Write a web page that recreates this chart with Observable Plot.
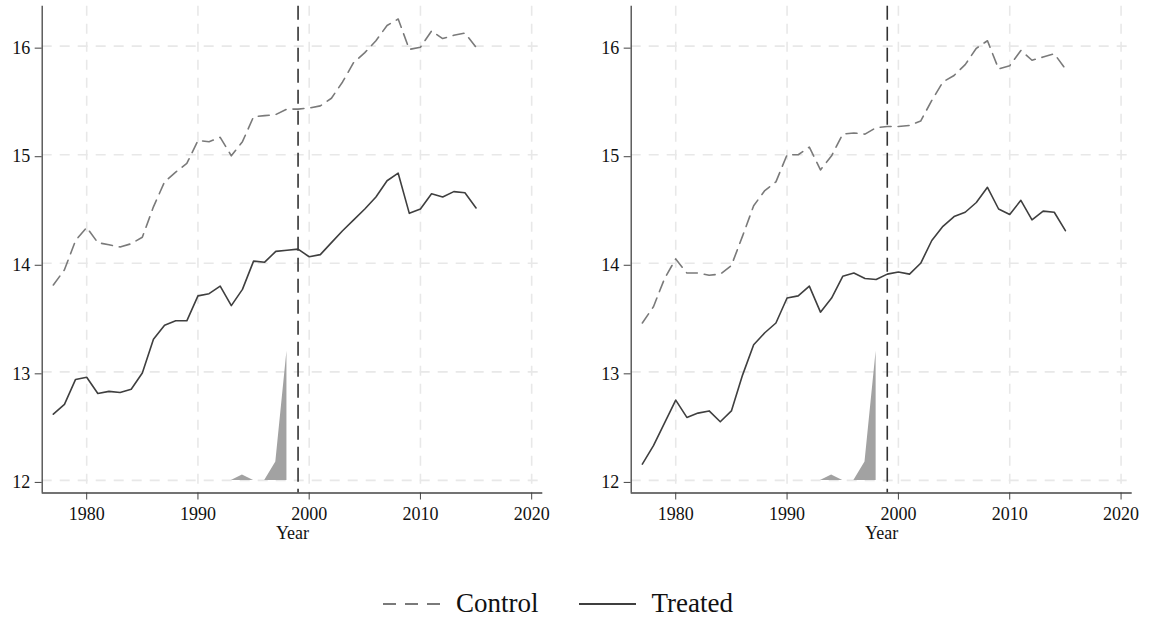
<!DOCTYPE html>
<html>
<head>
<meta charset="utf-8">
<script src="https://cdn.jsdelivr.net/npm/d3@7"></script>
<script src="https://cdn.jsdelivr.net/npm/@observablehq/plot@0.6"></script>
<style>
  html, body { margin: 0; padding: 0; background: #fff; }
  body { width: 1151px; height: 623px; position: relative; overflow: hidden; font-family: "Liberation Serif", "DejaVu Serif", serif; }
  #panels { display: flex; flex-direction: row; position: absolute; left: 0; top: 0; }
  #panels svg text { font-family: "Liberation Serif", "DejaVu Serif", serif; font-size: 18px; }
  #legend { position: absolute; left: 383px; top: 588px; display: flex; align-items: center; font-size: 27px; color: #111; }
  #legend .item { display: flex; align-items: center; }
  #legend svg { display: block; }
</style>
</head>
<body>
<div id="panels"></div>
<div id="legend"></div>
<script>
const years = [1977,1978,1979,1980,1981,1982,1983,1984,1985,1986,1987,1988,1989,1990,1991,1992,1993,1994,1995,1996,1997,1998,1999,2000,2001,2002,2003,2004,2005,2006,2007,2008,2009,2010,2011,2012,2013,2014,2015];

const leftControl = [13.80,13.94,14.21,14.33,14.19,14.17,14.15,14.18,14.24,14.52,14.75,14.84,14.92,15.13,15.12,15.16,14.99,15.12,15.35,15.36,15.37,15.42,15.42,15.43,15.45,15.52,15.67,15.85,15.94,16.05,16.19,16.25,15.97,15.99,16.14,16.07,16.10,16.12,15.99];
const leftTreated = [12.61,12.70,12.93,12.95,12.80,12.82,12.81,12.84,12.99,13.30,13.43,13.47,13.47,13.70,13.72,13.79,13.61,13.76,14.02,14.01,14.11,14.12,14.13,14.06,14.08,14.19,14.30,14.40,14.50,14.61,14.76,14.83,14.46,14.50,14.64,14.61,14.66,14.65,14.51];

const rightControl = [13.45,13.60,13.86,14.04,13.91,13.91,13.89,13.90,13.98,14.25,14.53,14.67,14.75,15.00,15.00,15.07,14.86,14.99,15.19,15.20,15.19,15.25,15.26,15.26,15.27,15.31,15.50,15.67,15.73,15.83,15.98,16.05,15.79,15.82,15.96,15.87,15.90,15.93,15.79];
const rightTreated = [12.15,12.32,12.53,12.74,12.58,12.62,12.64,12.54,12.64,12.97,13.25,13.36,13.45,13.68,13.70,13.79,13.55,13.68,13.88,13.91,13.86,13.85,13.90,13.92,13.90,14.00,14.21,14.34,14.43,14.47,14.56,14.70,14.50,14.45,14.58,14.40,14.48,14.47,14.30];

const shadeYears = [1993,1994,1995,1996,1997,1998];
const shadeValues = [12.00,12.05,12.00,12.00,12.17,13.19];
const shadeBase = 12;

const xTicks = [1980,1990,2000,2010,2020];
const yTicks = [12,13,14,15,16];
const xDomain = [1976, 2021];
const yDomain = [11.884, 16.368];
const treatmentYear = 1999;
const seriesNames = ["Control", "Treated"];
const xLabel = "Year";

const COL_CONTROL = "#7a7a7a";
const COL_TREATED = "#3f3f3f";
const DASH_CONTROL = "11,7";
const FONT = "'Liberation Serif', 'DejaVu Serif', serif";

function panel(control, treated, width, marginLeft, marginRight) {
  const ctl = years.map((y, i) => ({year: y, value: control[i]}));
  const trt = years.map((y, i) => ({year: y, value: treated[i]}));
  const shade = shadeYears.map((y, i) => ({year: y, value: shadeValues[i]}));
  return Plot.plot({
    width,
    height: 550,
    marginLeft,
    marginRight,
    marginTop: 5.7,
    marginBottom: 57.5,
    style: {fontFamily: FONT, fontSize: "18px", color: "#111", background: "transparent"},
    x: {domain: xDomain},
    y: {domain: yDomain},
    marks: [
      Plot.gridX(xTicks, {stroke: "#e8e8e8", strokeOpacity: 1, strokeWidth: 1.6, strokeDasharray: "10,8"}),
      Plot.gridY(yTicks, {stroke: "#e8e8e8", strokeOpacity: 1, strokeWidth: 1.6, strokeDasharray: "10,8"}),
      Plot.areaY(shade, {x: "year", y1: shadeBase, y2: "value", fill: "#a2a2a2", fillOpacity: 1}),
      Plot.ruleX([treatmentYear], {stroke: "#333", strokeWidth: 1.6, strokeDasharray: "14,7"}),
      Plot.line(ctl, {x: "year", y: "value", stroke: COL_CONTROL, strokeWidth: 1.6, strokeDasharray: DASH_CONTROL}),
      Plot.line(trt, {x: "year", y: "value", stroke: COL_TREATED, strokeWidth: 1.6}),
      Plot.ruleX([xDomain[0]], {stroke: "#444", strokeWidth: 1.3}),
      Plot.ruleY([yDomain[0]], {stroke: "#444", strokeWidth: 1.3}),
      Plot.axisX(xTicks, {tickSize: 7, tickPadding: 7, tickFormat: d => String(d), label: null, stroke: "#444", fontSize: 18}),
      Plot.axisY(yTicks, {tickSize: 7, tickPadding: 5, dy: 2, tickFormat: d => String(d), label: null, stroke: "#444", fontSize: 18}),
      Plot.text([xLabel], {frameAnchor: "bottom", dy: 46, fontSize: 18, fill: "#111"})
    ]
  });
}

const host = document.getElementById("panels");
host.appendChild(panel(leftControl, leftTreated, 575, 41.7, 32.7));
host.appendChild(panel(rightControl, rightTreated, 576, 55.7, 19.3));

// Legend
const legend = document.getElementById("legend");
function legendItem(name, dash, color, gapAfter) {
  const item = document.createElement("div");
  item.className = "item";
  item.style.marginRight = gapAfter + "px";
  const svg = d3.create("svg").attr("width", 57).attr("height", 20);
  svg.append("line").attr("x1", 0).attr("x2", 57).attr("y1", 10).attr("y2", 10)
    .attr("stroke", color).attr("stroke-width", 1.8).attr("stroke-dasharray", dash);
  item.appendChild(svg.node());
  const t = document.createElement("span");
  t.textContent = name;
  t.style.marginLeft = "16px";
  item.appendChild(t);
  legend.appendChild(item);
}
legendItem(seriesNames[0], "13,9", COL_CONTROL, 40);
legendItem(seriesNames[1], null, COL_TREATED, 0);
</script>
</body>
</html>
